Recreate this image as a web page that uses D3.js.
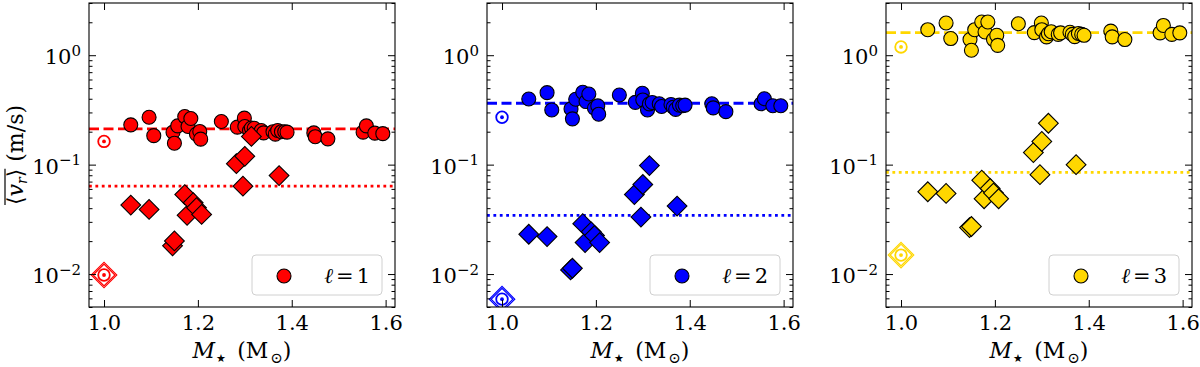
<!DOCTYPE html>
<html>
<head>
<meta charset="utf-8">
<script src="https://cdn.jsdelivr.net/npm/d3@7"></script>
<style>
  body { margin: 0; background: #fff; }
  svg { font-family: "DejaVu Serif", serif; }
</style>
</head>
<body>
<div id="chart"></div>
<script>
/** stellar masses of the circle points (same stars in every panel) */
let massCirc = [1.057, 1.096, 1.106, 1.147, 1.150, 1.157, 1.172, 1.179, 1.185, 1.197, 1.204, 1.206,
  1.250, 1.284, 1.299, 1.300, 1.310, 1.314, 1.320, 1.335, 1.340, 1.360, 1.365, 1.370, 1.378, 1.385,
  1.390, 1.447, 1.450, 1.477, 1.552, 1.559, 1.577, 1.594];
let circL1 = [0.231, 0.271, 0.184, 0.198, 0.157, 0.226, 0.275, 0.223, 0.264, 0.190, 0.201, 0.171,
  0.248, 0.220, 0.266, 0.223, 0.205, 0.216, 0.215, 0.205, 0.195, 0.200, 0.190, 0.205, 0.200, 0.200,
  0.198, 0.195, 0.180, 0.172, 0.198, 0.226, 0.194, 0.192];
let circL2 = [0.398, 0.455, 0.316, 0.323, 0.262, 0.396, 0.458, 0.377, 0.442, 0.328, 0.344, 0.289,
  0.433, 0.371, 0.449, 0.390, 0.316, 0.359, 0.370, 0.360, 0.340, 0.355, 0.335, 0.320, 0.350, 0.345,
  0.350, 0.360, 0.330, 0.305, 0.360, 0.400, 0.345, 0.345];
let circL3 = [1.71, 1.97, 1.42, 1.39, 1.11, 1.71, 2.01, 1.63, 2.01, 1.39, 1.52, 1.23,
  1.94, 1.61, 1.97, 1.71, 1.47, 1.57, 1.64, 1.55, 1.60, 1.62, 1.55, 1.48, 1.58, 1.55,
  1.52, 1.66, 1.47, 1.39, 1.60, 1.87, 1.55, 1.60];

/** diamond points */
let massDiam = [1.057, 1.096, 1.146, 1.150, 1.172, 1.177, 1.190, 1.197, 1.208, 1.282, 1.296, 1.300, 1.314, 1.373];
let diamL1 = [0.0427, 0.039, 0.0181, 0.0201, 0.0533, 0.0344, 0.0449, 0.0404, 0.0351, 0.102, 0.0635, 0.119, 0.181, 0.0794];
let diamL2 = [0.0231, 0.022, 0.0109, 0.0113, 0.0289, 0.0194, 0.0243, 0.0225, 0.0194, 0.0533, 0.0332, 0.0658, 0.098, 0.0418];
let diamL3 = [0.0565, 0.0546, 0.0266, 0.0272, 0.0721, 0.0488, 0.0605, 0.055, 0.0488, 0.129, 0.081, 0.163, 0.239, 0.1];

/** mean lines and the Sun */
let meanCirc = [0.212, 0.364, 1.61];
let meanDiam = [0.0635, 0.0344, 0.085];
let sunMass = 1.0;
let sunCirc = [0.163, 0.271, 1.19];
let sunDiam = [0.0098, 0.0059, 0.0149];

let degrees = ['1', '2', '3'];
let colors = ['#ff0000', '#0000ff', '#ffd700'];
let xTicks = [1.0, 1.2, 1.4, 1.6];
let yTicks = [0.01, 0.1, 1];
let yTickExp = ['\u22122', '\u22121', '0'];

let circSeries = [circL1, circL2, circL3];
let diamSeries = [diamL1, diamL2, diamL3];

/** layout */
let width = 1200, height = 367;
let panelLeft = [89, 487, 886];
let panelTop = 3, pw = 306, ph = 304;

let svg = d3.select('#chart').append('svg')
  .attr('width', width)
  .attr('height', height);

let x = d3.scaleLinear().domain([0.968, 1.62]).range([0, pw]);
let y = d3.scaleLog().domain([0.005, 3]).range([ph, 0]);

let minorTicks = [];
for (let e = -3; e <= 0; e++) {
  for (let m = 2; m <= 9; m++) {
    let v = m * Math.pow(10, e);
    if (v >= 0.005 && v <= 3) minorTicks.push(v);
  }
}

let diamond = d3.symbol().type(d3.symbolSquare);

panelLeft.forEach(function (left, i) {
  let g = svg.append('g').attr('transform', `translate(${left},${panelTop})`);
  let col = colors[i];

  g.append('clipPath').attr('id', 'clip' + i)
    .append('rect').attr('width', pw).attr('height', ph);

  let plot = g.append('g').attr('clip-path', `url(#clip${i})`);

  // mean lines
  plot.append('line')
    .attr('x1', 0).attr('x2', pw)
    .attr('y1', y(meanCirc[i])).attr('y2', y(meanCirc[i]))
    .style('stroke', col).style('stroke-width', 2.8)
    .style('stroke-dasharray', '10,4.5');
  plot.append('line')
    .attr('x1', 0).attr('x2', pw)
    .attr('y1', y(meanDiam[i])).attr('y2', y(meanDiam[i]))
    .style('stroke', col).style('stroke-width', 2.8)
    .style('stroke-dasharray', '2.8,3.6');

  // circles
  plot.selectAll('.circ')
    .data(massCirc.map((m, k) => [m, circSeries[i][k]]))
    .enter()
    .append('circle')
    .attr('class', 'circ')
    .attr('cx', d => x(d[0]))
    .attr('cy', d => y(d[1]))
    .attr('r', 7)
    .style('fill', col)
    .style('stroke', '#000')
    .style('stroke-width', 1.1);

  // diamonds
  plot.selectAll('.diam')
    .data(massDiam.map((m, k) => [m, diamSeries[i][k]]))
    .enter()
    .append('path')
    .attr('class', 'diam')
    .attr('d', diamond.size(195))
    .attr('transform', d => `translate(${x(d[0])},${y(d[1])}) rotate(45)`)
    .style('fill', col)
    .style('stroke', '#000')
    .style('stroke-width', 1.1);

  // the Sun
  let sun = [[sunMass, sunCirc[i], false], [sunMass, sunDiam[i], true]];
  sun.forEach(function (s) {
    let sg = plot.append('g').attr('transform', `translate(${x(s[0])},${y(s[1])})`);
    if (s[2]) {
      sg.append('path').attr('d', diamond.size(325)).attr('transform', 'rotate(45)')
        .style('fill', '#fff').style('stroke', col).style('stroke-width', 1.2);
      sg.append('path').attr('d', diamond.size(235)).attr('transform', 'rotate(45)')
        .style('fill', 'none').style('stroke', col).style('stroke-width', 1.2);
    }
    sg.append('circle').attr('r', 5.8)
      .style('fill', 'none').style('stroke', col).style('stroke-width', 1.8);
    sg.append('circle').attr('r', 1.9).style('fill', col);
  });

  // axes, ticks pointing in, on all sides
  let xb = g.append('g').attr('transform', `translate(0,${ph})`)
    .call(d3.axisBottom(x).tickValues(xTicks).tickSize(-7).tickPadding(8).tickFormat(d3.format('.1f')));
  xb.selectAll('text').style('font-size', '21px').style('font-family', 'DejaVu Serif').attr('fill', '#000');
  g.append('g').call(d3.axisTop(x).tickValues(xTicks).tickSize(-7).tickFormat(''));

  let yl = g.append('g')
    .call(d3.axisLeft(y).tickValues(yTicks).tickSize(-7).tickPadding(8).tickFormat(''));
  yl.selectAll('text').each(function (d, k) {
    let t = d3.select(this)
      .style('font-size', '21px').style('font-family', 'DejaVu Serif').attr('fill', '#000')
      .attr('dy', '0.4em');
    t.append('tspan').text('10');
    t.append('tspan').attr('dy', '-0.55em').style('font-size', '15px').text(yTickExp[k]);
  });
  g.append('g').call(d3.axisLeft(y).tickValues(minorTicks).tickSize(-3.5).tickFormat(''));
  g.append('g').attr('transform', `translate(${pw},0)`)
    .call(d3.axisRight(y).tickValues(yTicks).tickSize(-7).tickFormat(''));
  g.append('g').attr('transform', `translate(${pw},0)`)
    .call(d3.axisRight(y).tickValues(minorTicks).tickSize(-3.5).tickFormat(''));
  g.selectAll('.domain').remove();

  g.append('rect').attr('width', pw).attr('height', ph)
    .style('fill', 'none').style('stroke', '#000').style('stroke-width', 1.1);

  // legend
  let lg = g.append('g').attr('transform', `translate(${pw - 143},${ph - 52})`);
  lg.append('rect').attr('width', 130).attr('height', 40).attr('rx', 4)
    .style('fill', '#fff').style('fill-opacity', 0.8)
    .style('stroke', '#d0d0d0').style('stroke-width', 1);
  lg.append('circle').attr('cx', 32).attr('cy', 21).attr('r', 7)
    .style('fill', col).style('stroke', '#000').style('stroke-width', 1.1);
  let lt = lg.append('text').attr('x', 118).attr('y', 28)
    .attr('text-anchor', 'end').style('font-size', '21px');
  lt.append('tspan').style('font-style', 'italic').text('\u2113');
  lt.append('tspan').attr('dx', '3').text('=');
  lt.append('tspan').attr('dx', '3').text(degrees[i]);

  // x label
  let xl = g.append('text')
    .attr('x', pw / 2).attr('y', ph + 51)
    .attr('text-anchor', 'middle').style('font-size', '22px');
  xl.append('tspan').style('font-style', 'italic').text('M');
  xl.append('tspan').attr('dy', '4').attr('dx', '1').style('font-size', '11px').text('\u2605');
  xl.append('tspan').attr('dy', '-4').text('\u2002(M');
  xl.append('tspan').attr('dy', '5').attr('dx', '2').style('font-size', '15px').text('\u2299');
  xl.append('tspan').attr('dy', '-5').text(')');

  // y label only on the first panel
  if (i === 0) {
    let yg = g.append('g').attr('transform', `translate(-66,${ph / 2}) rotate(-90)`);
    let ylab = yg.append('text')
      .attr('text-anchor', 'middle').style('font-size', '22px');
    ylab.append('tspan').text('\u27e8');
    ylab.append('tspan').style('font-style', 'italic').text('v');
    ylab.append('tspan').attr('dy', '4').style('font-size', '14px').style('font-style', 'italic').text('r');
    ylab.append('tspan').attr('dy', '-4').text('\u27e9');
    ylab.append('tspan').text(' (m/s)');
    // overline over the first four glyphs, measured from the rendered text
    let node = ylab.node();
    let e0 = node.getExtentOfChar(0), e3 = node.getExtentOfChar(3);
    let topY = Math.min(e0.y, e3.y) + 2;
    yg.append('line')
      .attr('x1', e0.x).attr('x2', e3.x + e3.width)
      .attr('y1', topY).attr('y2', topY)
      .style('stroke', '#000').style('stroke-width', 1.2);
  }
});
</script>
</body>
</html>
